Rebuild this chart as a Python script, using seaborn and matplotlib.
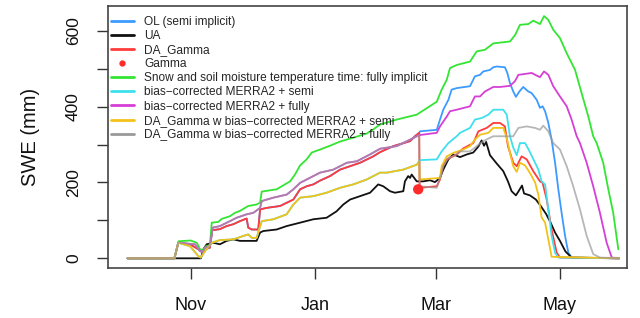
import numpy as np
import pandas as pd
import matplotlib
matplotlib.use("Agg")
import matplotlib.pyplot as plt
from matplotlib.lines import Line2D
import seaborn as sns

# days since 1 Oct, SWE in mm
season_start = pd.Timestamp("2016-10-01")

# OL (semi implicit) and DA_Gamma are the same run until the Gamma obs
ol_pre_days = [0, 23, 24.9, 30.6, 34.7, 36.4, 38, 40.4, 41.5, 45.3, 48.6, 51.9, 55.1, 58.4, 59.2, 60.9, 64.1, 65, 68.2, 74.8,
               81.3, 84.6, 87.8, 91.1, 94.4, 99.3, 104.2, 109.1, 114, 120.5, 123.8, 130.3, 138.5, 140.9, 143]
ol_pre_swe = [0, 0, 41, 37, 24, 17, 24, 28, 74, 77, 85, 90, 98, 105, 81, 76, 76, 129, 133, 138,
              155, 182, 190, 195, 205, 217, 234, 243, 252, 269, 280, 296, 309, 322, 331]
blue_post_days = [143.4, 151.6, 153.2, 154.8, 157.3, 158.9, 161.4, 167.9, 170.3, 172.8, 174.4, 177.7, 179.3, 181, 185, 186.2,
                  187.5, 189.1, 190.4, 192.1, 194, 196.5, 198.1, 200.6, 202.2, 203.5, 204.7, 206.3, 207.9, 209.6, 211.2,
                  212.8, 214.5, 216.1, 217.7, 241]
blue_post_swe = [335, 339, 366, 392, 418, 445, 449, 454, 480, 484, 493, 497, 504, 506, 504, 489,
                 462, 440, 426, 440, 452, 440, 436, 418, 397, 401, 388, 357, 313, 252, 182,
                 120, 59, 15, 2, 0]
red_post_days = [143.2, 151.6, 153.2, 154.5, 156.5, 161.4, 164.6, 169.5, 172, 176.1, 179.3, 182.6, 185, 186.5, 189.1,
                 190.8, 193.2, 195.7, 198.9, 202.2, 203.5, 205.5, 207.9, 210.4, 212, 241]
red_post_swe = [186, 190, 208, 243, 261, 274, 290, 304, 335, 344, 357, 357, 348, 296, 252,
                243, 269, 261, 230, 203, 199, 155, 76, 15, 2, 0]

ua_days = [0, 36, 37.2, 38.8, 42.1, 45.3, 48.6, 51.9, 55.1, 58.4, 63.3, 65, 66.6, 73.1, 78, 84.6, 91.1, 97.6, 102.5, 105.8,
           109.1, 114, 118.9, 122.9, 125.4, 128.7, 131.1, 135.2, 136, 137.6, 138.5, 139.3, 141.8, 145, 148.3, 150.7,
           153.2, 154.8, 157.3, 159.7, 163, 166.3, 169.5, 172, 173.6, 174.8, 175.8, 177.7, 181, 184.2, 186.5, 188.3,
           190.4, 191.6, 193.4, 194.4, 197.3, 200.2, 202.7, 205.2, 207.6, 209.6, 212, 214.7, 217.7, 241]
ua_swe = [0, 0, 24, 37, 41, 37, 46, 50, 46, 46, 46, 68, 72, 76, 85, 94, 103, 107, 124, 142,
          155, 164, 173, 195, 190, 177, 173, 177, 203, 217, 212, 221, 203, 203, 206, 201,
          212, 234, 261, 274, 267, 274, 279, 295, 311, 297, 307, 272, 250, 230, 203, 177,
          166, 176, 192, 171, 166, 155, 137, 117, 92, 68, 46, 18, 2, 0]

gamma_day = [142.5]
gamma_swe = [182]

green_days = [0, 23, 25, 31, 34, 35.5, 37, 38.5, 40.4, 41.3, 44.5, 46.2, 50.2, 52.7, 55.1, 59.2, 63.3, 65, 65.8, 73.1,
              79.7, 82.1, 84.6, 87.8, 90.3, 94.4, 99.3, 104.2, 110.5, 117.2, 120.2, 123.8, 132, 141.8, 151.6, 154,
              156.5, 158.1, 161.4, 167.9, 171.2, 175.2, 179.3, 187.5, 190, 192.4, 196.5, 198.9, 202.2, 204.2, 206.3,
              208.7, 212, 215.3, 219.4, 222.6, 225.9, 228.3, 230, 233.2, 235.7, 238.1, 240.6]
green_swe = [0, 0, 45, 47, 41, 24, 22, 32, 34, 94, 96, 104, 111, 120, 125, 138, 142, 147, 176, 182,
             203, 221, 245, 261, 279, 287, 297, 308, 318, 329, 339, 353, 366, 379, 413, 445,
             471, 502, 510, 519, 546, 550, 567, 572, 589, 616, 618, 627, 618, 639, 629,
             603, 581, 541, 497, 436, 374, 322, 304, 252, 182, 120, 24]

# bias-corrected MERRA2 + semi and its DA_Gamma run share the start
bcs_pre_days = [0, 23, 24.9, 30.6, 34.7, 35.9, 38, 41.3, 45.3, 51.9, 56.8, 59.2, 60.9, 63.3, 65.8, 71.5, 78, 81.3, 84.6,
                91.1, 97.6, 104.2, 110.7, 117.3, 123.8, 127.1, 135.2, 141.8, 143]
bcs_pre_swe = [0, 0, 41, 32, 6, 2, 19, 41, 48, 50, 59, 63, 54, 54, 98, 103, 116, 142, 160,
               164, 173, 186, 195, 208, 226, 226, 234, 247, 256]
cyan_post_days = [143.4, 151.6, 154, 157.3, 161.4, 163, 167.9, 170.3, 173.6, 176.9, 179.3, 184.2, 185.9, 187.5, 189.1,
                  190.8, 192.4, 194.9, 197.3, 201.4, 203, 204.7, 206.3, 207.9, 209.6, 211.2, 241]
cyan_post_swe = [259, 261, 282, 304, 322, 331, 344, 366, 370, 379, 392, 392, 379, 322, 292,
                 272, 304, 304, 280, 234, 203, 195, 129, 59, 15, 2, 0]
yellow_post_days = [143.2, 153.2, 154, 156.5, 159.7, 164.6, 167.9, 170.3, 172.8, 176.9, 179.3, 184.2, 185.9, 187.5,
                    189.1, 190.8, 192.4, 194.9, 197.3, 199.8, 201.4, 203, 204.7, 206.3, 207.9, 241]
yellow_post_swe = [208, 212, 243, 269, 278, 287, 296, 313, 326, 331, 344, 344, 318, 278,
                   243, 228, 252, 245, 225, 200, 168, 108, 94, 50, 4, 0]

# bias-corrected MERRA2 + fully and its DA_Gamma run share the start
bcf_pre_days = [0, 23, 24.9, 33.1, 35.5, 36.9, 38, 40.4, 41.8, 45.3, 50.2, 53.5, 58.4, 61.7, 65, 65.8, 71.5, 78, 81.3,
                84.6, 91.1, 94.4, 100.9, 107.5, 112.4, 118.9, 123.8, 132, 138.5, 141.8, 143]
bcf_pre_swe = [0, 0, 41, 37, 19, 17, 28, 32, 81, 85, 98, 107, 116, 120, 133, 151, 160, 168, 182,
               199, 217, 226, 234, 252, 256, 274, 289, 296, 313, 322, 325]
magenta_post_days = [151.6, 153.2, 156.5, 158.1, 161.4, 167.9, 170.3, 172.8, 175.2, 179.3, 182.6, 187.5, 189.9, 191.6,
                     195.7, 198.1, 200.6, 202.2, 204.2, 206.3, 208.7, 212, 215.3, 217.7, 220.2, 221.8, 225.1, 228.3,
                     231.6, 234.9, 237.4, 241]
magenta_post_swe = [331, 348, 374, 388, 392, 401, 427, 427, 440, 452, 452, 455, 467, 484,
                    487, 489, 482, 478, 493, 484, 454, 427, 401, 366, 322, 304, 252, 190,
                    120, 41, 2, 0]
gray_post_days = [143.2, 151.6, 154, 154.8, 157.3, 159.7, 163, 167.9, 171.2, 174.4, 177.7, 179.3, 189.1, 191.6, 195.7,
                  199.8, 202.2, 203.8, 206.3, 208.7, 212, 215.3, 218.5, 221.8, 225.1, 228.3, 231.6, 241]
gray_post_swe = [190, 186, 226, 243, 265, 269, 282, 282, 296, 309, 318, 322, 322, 344, 348,
                 344, 339, 350, 335, 304, 287, 243, 190, 129, 59, 11, 2, 0]


def to_date(days):
    return season_start + pd.to_timedelta(np.asarray(days, dtype=float), unit="D")


series = [
    ("OL (semi implicit)", ol_pre_days + blue_post_days, ol_pre_swe + blue_post_swe, "#3d9bff", 1),
    ("UA", ua_days, ua_swe, "#111111", 1),
    ("DA_Gamma", ol_pre_days + red_post_days, ol_pre_swe + red_post_swe, "#ff3b3b", 1),
    ("Snow and soil moisture temperature time: fully implicit", green_days, green_swe, "#33e533", 1),
    ("bias\u2212corrected MERRA2 + semi", bcs_pre_days + cyan_post_days, bcs_pre_swe + cyan_post_swe, "#3fe0ee", 1),
    ("bias\u2212corrected MERRA2 + fully", bcf_pre_days + magenta_post_days, bcf_pre_swe + magenta_post_swe, "#d63fd6", 1),
    ("DA_Gamma w bias\u2212corrected MERRA2 + semi", bcs_pre_days + yellow_post_days, bcs_pre_swe + yellow_post_swe, "#f2c21a", 1),
    ("DA_Gamma w bias\u2212corrected MERRA2 + fully", bcf_pre_days + gray_post_days, bcf_pre_swe + gray_post_swe, "#999999", 0.7),
]

sns.set_theme(style="ticks")
plt.rcParams["font.family"] = ["Liberation Sans", "DejaVu Sans"]

fig = plt.figure(figsize=(6.4, 3.18), dpi=100)
ax = fig.add_axes([0.16875, 0.1572, 0.8109, 0.8239])

handles = []
for name, d, v, col, a in series:
    sns.lineplot(x=to_date(d), y=v, color=col, lw=1.3, alpha=a, ax=ax, legend=False, errorbar=None)
    handles.append(Line2D([], [], color=col, lw=2, label=name))
    if name == "DA_Gamma":
        sns.scatterplot(x=to_date(gamma_day), y=gamma_swe, color="#ff2a2a", s=55, edgecolor="none", ax=ax, zorder=5)
        handles.append(Line2D([], [], color="#ff2a2a", ls="none", marker="o", ms=3.5, label="Gamma"))

ax.set_xlim(season_start + pd.Timedelta(days=-9.56), season_start + pd.Timedelta(days=244.85))
ax.set_ylim(-25.6, 665.6)

xt = pd.to_datetime(["2016-11-01", "2017-01-01", "2017-03-01", "2017-05-01"])
ax.set_xticks(xt)
ax.set_xticklabels(["Nov", "Jan", "Mar", "May"])
ax.set_yticks([0, 100, 200, 300, 400, 500, 600])
ax.set_yticklabels(["0", "", "200", "", "400", "", "600"])
for lab in ax.get_yticklabels():
    lab.set_rotation(90)
    lab.set_va("center")

ax.tick_params(axis="both", direction="out", length=8, width=1, color="#333333", labelsize=12.5, labelcolor="#111111")
ax.tick_params(axis="x", labelsize=13, pad=13)
ax.tick_params(axis="y", pad=11.5)
for s in ax.spines.values():
    s.set_visible(True)
    s.set_color("#444444")
    s.set_linewidth(1.2)

ax.set_xlabel("")
ax.set_ylabel("SWE (mm)", fontsize=14.5, labelpad=19, color="#111111")

ax.legend(handles=handles, loc="upper left", bbox_to_anchor=(0.005, 0.963), frameon=False,
          fontsize=8.6, handlelength=1.95, handletextpad=0.85, labelspacing=0.18,
          borderpad=0, borderaxespad=0)

fig.savefig("out.png", dpi=100)
